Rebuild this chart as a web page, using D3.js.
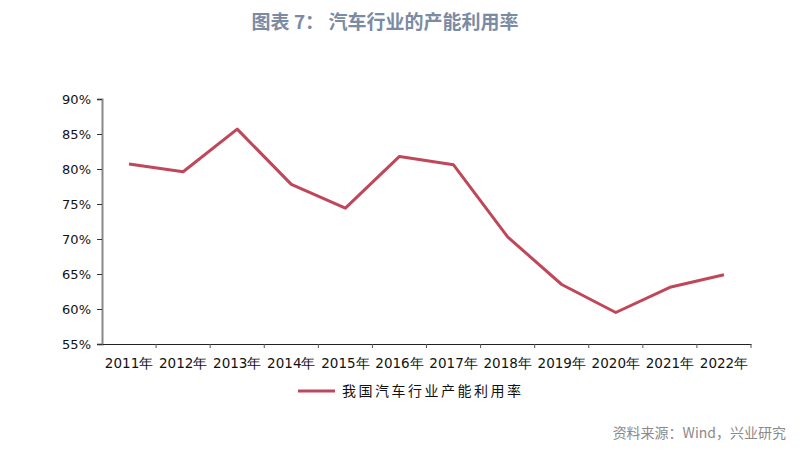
<!DOCTYPE html>
<html><head><meta charset="utf-8">
<script src="https://cdn.jsdelivr.net/npm/d3@7"></script>
<style>body{margin:0;background:#fff}svg{display:block}</style>
</head><body>
<script>
const years = ["2011年","2012年","2013年","2014年","2015年","2016年","2017年","2018年","2019年","2020年","2021年","2022年"];
const utilization = [80.7, 79.6, 85.7, 77.8, 74.4, 81.8, 80.6, 70.3, 63.5, 59.5, 63.1, 64.9];
const yTicks = [55, 60, 65, 70, 75, 80, 85, 90];
const seriesName = "我国汽车行业产能利用率";
const titleText = "图表 7：  汽车行业的产能利用率";
const sourceText = "资料来源：Wind，兴业研究";

const W = 809, H = 453;
const svg = d3.select("body").append("svg").attr("width", W).attr("height", H);
const font = "'Noto Sans CJK SC', 'Noto Sans', sans-serif";

const x = d3.scaleBand().domain(years).range([102, 751]);
const y = d3.scaleLinear().domain([55, 90]).range([344, 99]);

svg.append("text").attr("x", 385).attr("y", 29).attr("text-anchor", "middle")
  .attr("font-family", font).attr("font-weight", "bold").attr("font-size", 19)
  .attr("fill", "#7b8ba3").text(titleText);

// y axis
const ya = svg.append("g").attr("transform", "translate(102,0)")
  .call(d3.axisLeft(y).tickValues(yTicks).tickSize(5).tickFormat(d => d + "%"));
ya.select(".domain").attr("stroke", "#888").attr("stroke-width", 2);
ya.selectAll(".tick line").attr("stroke", "#333");
ya.selectAll("text").attr("font-family", "'DejaVu Sans', sans-serif").attr("font-size", 13).attr("fill", "#111").attr("x", -11);

// x axis
const xa = svg.append("g").attr("transform", "translate(0,344)")
  .call(d3.axisBottom(x).tickSize(0).tickSizeOuter(0));
xa.select(".domain").attr("stroke", "#222").attr("stroke-width", 1);
xa.selectAll("text").attr("font-family", "'DejaVu Sans', sans-serif").attr("font-size", 13.5).attr("fill", "#111").attr("dy", "1.55em");
const bounds = years.map(d => x(d)).concat([x.range()[1]]);
svg.append("g").selectAll("line").data(bounds.slice(1)).join("line")
  .attr("x1", d => d).attr("x2", d => d).attr("y1", 344).attr("y2", 348)
  .attr("stroke", "#555");

// line
const line = d3.line().x((d, i) => x(years[i]) + x.bandwidth() / 2).y(d => y(d));
svg.append("path").datum(utilization).attr("d", line)
  .attr("fill", "none").attr("stroke", "#c0475a").attr("stroke-width", 3)
  .attr("stroke-linejoin", "round");

// legend
svg.append("line").attr("x1", 298).attr("x2", 335).attr("y1", 391).attr("y2", 391)
  .attr("stroke", "#c0475a").attr("stroke-width", 3);
svg.append("text").attr("x", 342).attr("y", 396).attr("font-family", font)
  .attr("font-size", 14).attr("letter-spacing", 2.5).attr("fill", "#111").text(seriesName);

// source
svg.append("text").attr("x", 786).attr("y", 438).attr("text-anchor", "end")
  .attr("font-family", font).attr("font-size", 14).attr("fill", "#8a8a8a").text(sourceText);
</script>
</body></html>
